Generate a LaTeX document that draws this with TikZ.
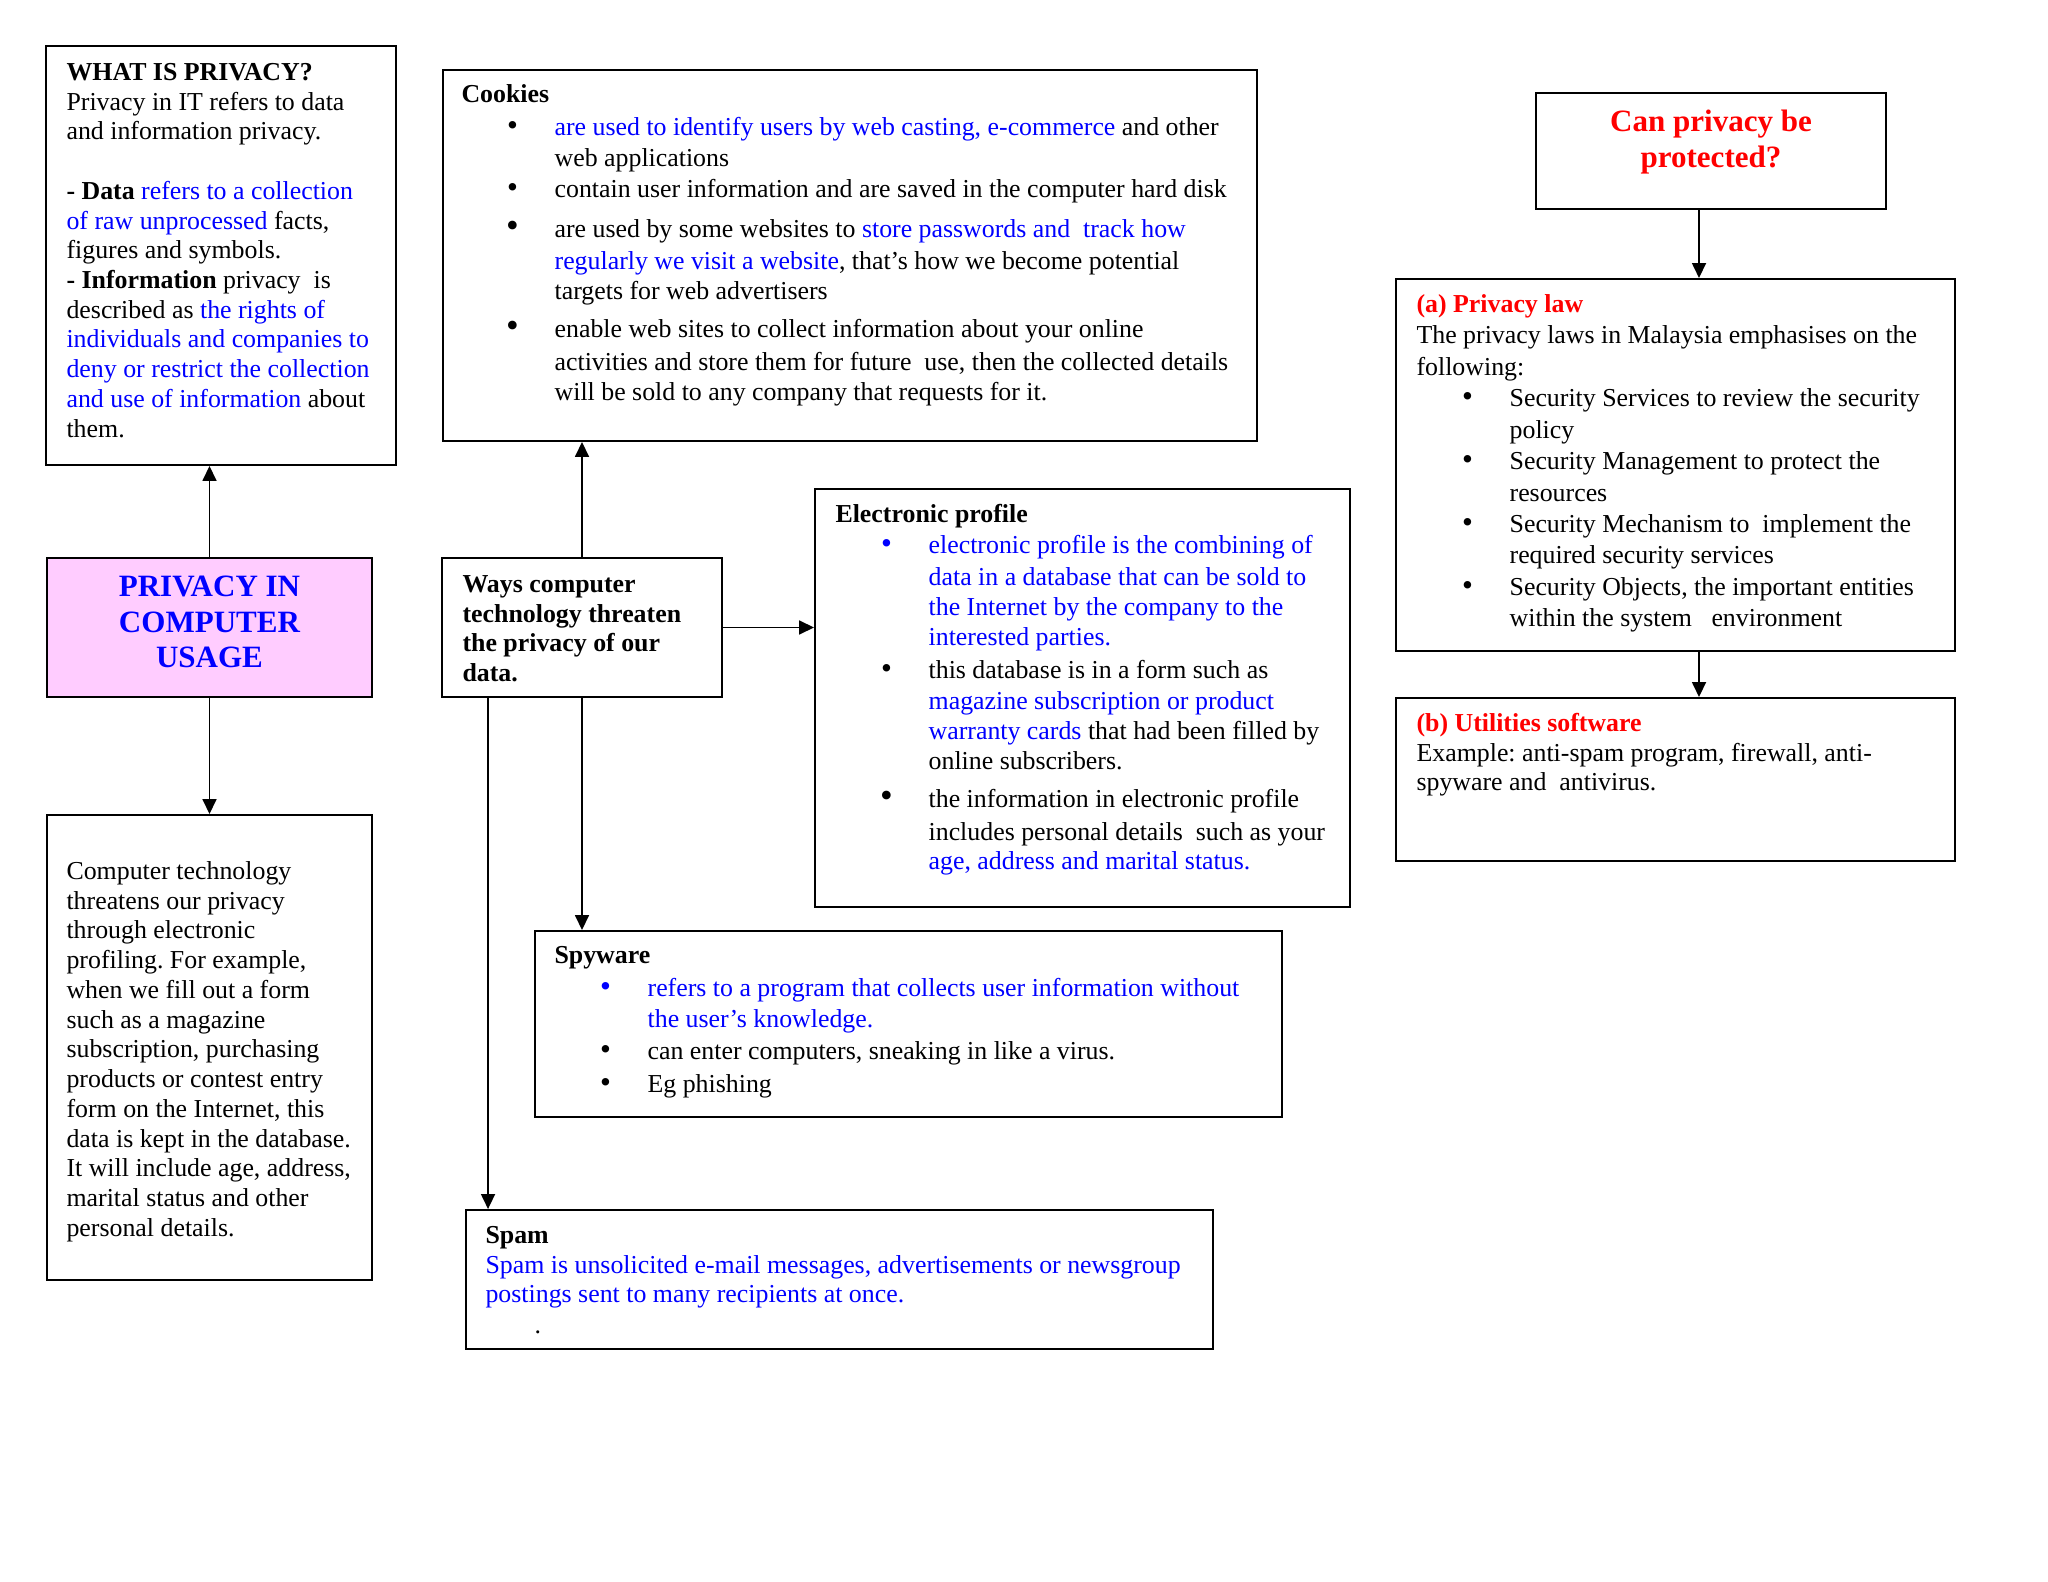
\documentclass[tikz,border=0pt]{standalone}
\usepackage{fontspec}
\setmainfont{Liberation Serif}
\usepackage{xcolor}
\usetikzlibrary{arrows.meta,fit,calc}
\definecolor{cblue}{HTML}{0000FF}
\definecolor{cred}{HTML}{FF0000}
\definecolor{cpink}{HTML}{FFCCFF}
\setlength{\parindent}{0pt}
\frenchspacing
\newcommand{\bodyfont}{\fontsize{10}{11.5}\selectfont}
\newcommand{\lawfont}{\fontsize{10}{12.15}\selectfont}
\newcommand{\headfont}{\fontsize{12}{13.8}\selectfont\bfseries}
\newcommand{\bluetext}[1]{\textcolor{cblue}{#1}}
\newcommand{\redtext}[1]{\textcolor{cred}{#1}}
\newcommand{\bul}[1][black]{\makebox[36pt][l]{\hspace*{17.6pt}\textcolor{#1}{\fontsize{12}{11.5}\selectfont\textbullet}}}
\newcommand{\bigbul}[1][black]{\makebox[36pt][l]{\hspace*{17.2pt}\textcolor{#1}{\fontsize{14}{11.5}\selectfont\textbullet}}}
\newcommand{\ind}{\hspace*{36pt}}
\tikzset{
  boxframe/.style={draw, line width=0.75pt, inner sep=0pt},
  bodytext/.style={anchor=north west, inner sep=0pt, text width=12cm,
    font=\bodyfont, execute at begin node={\spaceskip=0pt\xspaceskip=0pt\strut}},
  headtext/.style={anchor=north, inner sep=0pt, text width=6cm,
    font=\headfont, execute at begin node={\centering\spaceskip=0pt\xspaceskip=0pt\strut}},
  link/.style={-{Triangle[length=5.8pt,width=5.4pt]}, line width=0.7pt}
}

\begin{document}
\begin{tikzpicture}[x=0.38672pt, y=-0.38672pt]
  \useasboundingbox (0,0) rectangle (2048,1582);

  % boxes
  \node[boxframe, fit={(46,46) (396,465)}] (what) {};
  \node[boxframe, fill=cpink, fit={(47,558) (372,697)}] (usage) {};
  \node[boxframe, fit={(47,815) (372,1280)}] (tech) {};
  \node[boxframe, fit={(443,70) (1257,441)}] (cookies) {};
  \node[boxframe, fit={(442,558) (722,697)}] (ways) {};
  \node[boxframe, fit={(815,489) (1350,907)}] (elec) {};
  \node[boxframe, fit={(535,931) (1282,1117)}] (spy) {};
  \node[boxframe, fit={(466,1210) (1213,1349)}] (spam) {};
  \node[boxframe, fit={(1536,93) (1886,209)}] (can) {};
  \node[boxframe, fit={(1396,279) (1955,651)}] (law) {};
  \node[boxframe, fit={(1396,698) (1955,861)}] (util) {};

  % texts
  \node[bodytext] (whattext) at ([shift={(21,14)}]what.north west) {\textbf{WHAT IS PRIVACY?}\\
    Privacy in IT refers to data\\
    and information privacy.\\[11.5pt]
    \textbf{- Data} \bluetext{refers to a collection}\\
    \bluetext{of raw unprocessed} facts,\\
    figures and symbols.\\
    \textbf{- Information} privacy\ \ is\\
    described as \bluetext{the rights of}\\
    \bluetext{individuals and companies to}\\
    \bluetext{deny or restrict the collection}\\
    \bluetext{and use of information} about\\
    them.};

  \node[headtext, text=cblue] (usagetext) at ([shift={(0,14)}]usage.north) {PRIVACY IN\\COMPUTER\\USAGE};

  \node[bodytext] (techtext) at ([shift={(20,44)}]tech.north west) {Computer technology\\
    threatens our privacy\\
    through electronic\\
    profiling. For example,\\
    when we fill out a form\\
    such as a magazine\\
    subscription, purchasing\\
    products or contest entry\\
    form on the Internet, this\\
    data is kept in the database.\\
    It will include age, address,\\
    marital status and other\\
    personal details.};

  \node[bodytext] (cookiestext) at ([shift={(19,12)}]cookies.north west) {\textbf{Cookies}\\[1.3pt]
    \bul\bluetext{are used to identify users by web casting, e-commerce} and other\\[0.5pt]
    \ind web applications\\[0.5pt]
    \bul contain user information and are saved in the computer hard disk\\[4pt]
    \bigbul are used by some websites to \bluetext{store passwords and\ \ track how}\\[0.9pt]
    \ind\bluetext{regularly we visit a website}, that’s how we become potential\\
    \ind targets for web advertisers\\[3.2pt]
    \bigbul enable web sites to collect information about your online\\[1.3pt]
    \ind activities and store them for future\ \ use, then the collected details\\
    \ind will be sold to any company that requests for it.};

  \node[bodytext, font=\bodyfont\bfseries] (waystext) at ([shift={(21,14)}]ways.north west) {Ways computer\\
    technology threaten\\
    the privacy of our\\
    data.};

  \node[bodytext] (electext) at ([shift={(21,13)}]elec.north west) {\textbf{Electronic profile}\\[0.6pt]
    \bul[cblue]\bluetext{electronic profile is the combining of}\\[0.9pt]
    \ind\bluetext{data in a database that can be sold to}\\[0.1pt]
    \ind\bluetext{the Internet by the company to the}\\
    \ind\bluetext{interested parties.}\\[1.3pt]
    \bul this database is in a form such as\\[0.5pt]
    \ind\bluetext{magazine subscription or product}\\
    \ind\bluetext{warranty cards} that had been filled by\\
    \ind online subscribers.\\[3.2pt]
    \bigbul the information in electronic profile\\[1.3pt]
    \ind includes personal details\ \ such as your\\
    \ind\bluetext{age, address and marital status.}};

  \node[bodytext] (spytext) at ([shift={(20,12)}]spy.north west) {\textbf{Spyware}\\[1.3pt]
    \bul[cblue]\bluetext{refers to a program that collects user information without}\\[0.5pt]
    \ind\bluetext{the user’s knowledge.}\\[0.9pt]
    \bul can enter computers, sneaking in like a virus.\\[1.3pt]
    \bul Eg phishing};

  \node[bodytext] (spamtext) at ([shift={(20,13)}]spam.north west) {\textbf{Spam}\\
    \bluetext{Spam is unsolicited e-mail messages, advertisements or newsgroup}\\
    \bluetext{postings sent to many recipients at once.}\\[0.5pt]
    \hspace*{19pt}.};

  \node[headtext, text=cred] (cantext) at ([shift={(0,14)}]can.north) {Can privacy be\\protected?};

  \node[bodytext, font=\lawfont] (lawtext) at ([shift={(21,12)}]law.north west) {\redtext{\textbf{(a) Privacy law}}\\
    The privacy laws in Malaysia emphasises on the\\
    following:\\
    \bul Security Services to review the security\\
    \ind policy\\
    \bul Security Management to protect the\\
    \ind resources\\
    \bul Security Mechanism to\ \ implement the\\
    \ind required security services\\
    \bul Security Objects, the important entities\\
    \ind within the system\ \ \ environment};

  \node[bodytext] (utiltext) at ([shift={(21,13)}]util.north west) {\redtext{\textbf{(b) Utilities software}}\\
    Example: anti-spam program, firewall, anti-\\
    spyware and\ \ antivirus.};

  % connectors
  \coordinate (spamout) at ($(ways.south west)+(47,0)$);
  \coordinate (canout) at ($(can.south)+(-12,0)$);

  \draw[link] (usage.north) -- (usage.north |- what.south);
  \draw[link] (usage.south) -- (usage.south |- tech.north);
  \draw[link] (ways.north) -- (ways.north |- cookies.south);
  \draw[link] (ways.east) -- (ways.east -| elec.west);
  \draw[link] (ways.south) -- (ways.south |- spy.north);
  \draw[link] (spamout) -- (spamout |- spam.north);
  \draw[link] (canout) -- (canout |- law.north);
  \draw[link] (canout |- law.south) -- (canout |- util.north);
\end{tikzpicture}
\end{document}
